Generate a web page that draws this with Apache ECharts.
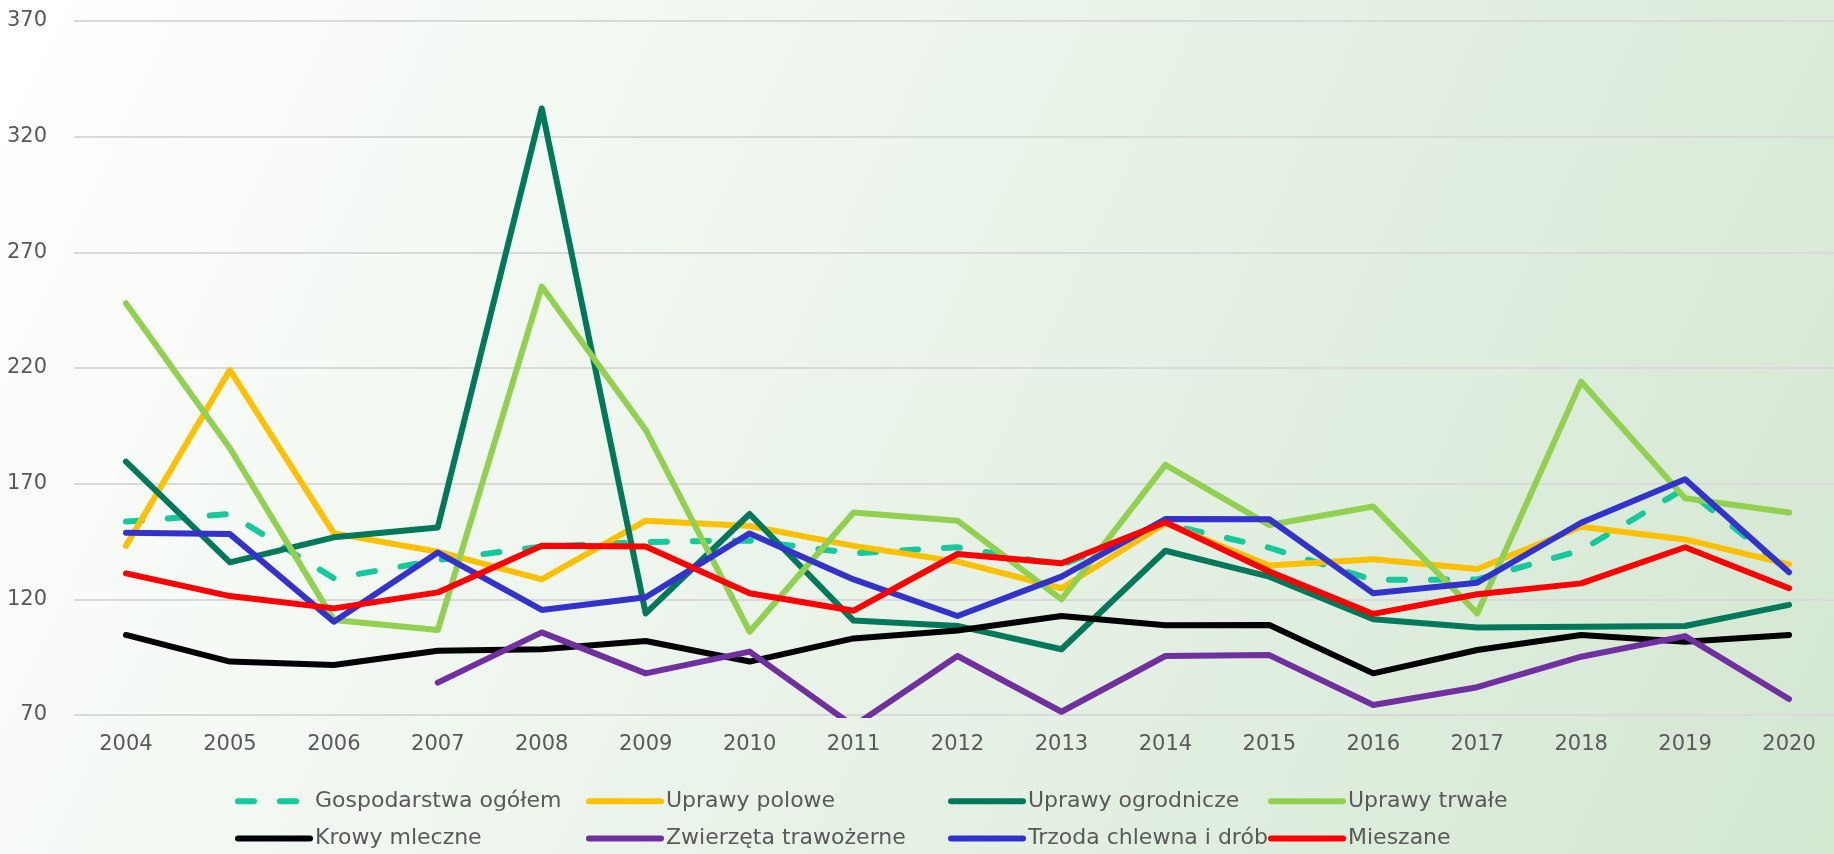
<!DOCTYPE html>
<html>
<head>
    <meta charset="utf-8">
    <title>Gospodarstwa - wskaźniki 2004-2020</title>
    <script src="https://cdn.jsdelivr.net/npm/echarts@6.0.0/dist/echarts.min.js"></script>
    <style>
        html, body {
            margin: 0;
            padding: 0;
        }
        #chart {
            width: 1834px;
            height: 854px;
        }
    </style>
</head>
<body>
<div id="chart"></div>

<script>
    const years = ['2004', '2005', '2006', '2007', '2008', '2009', '2010', '2011', '2012',
        '2013', '2014', '2015', '2016', '2017', '2018', '2019', '2020'];

    const ogolem = [153.6, 156.9, 129.1, 137.0, 142.8, 144.8, 145.4, 139.9, 142.5, 134.8, 152.6, 142.3, 128.4, 128.6, 141.2, 168.0, 132.0];
    const polowe = [143.1, 219.1, 148.5, 140.6, 128.6, 154.0, 151.7, 143.1, 136.3, 124.8, 152.9, 134.6, 137.3, 133.1, 151.4, 145.9, 135.1];
    const ogrodnicze = [179.5, 136.0, 146.8, 151.1, 332.2, 113.9, 156.9, 110.8, 108.5, 98.4, 141.0, 129.8, 111.4, 107.8, 108.2, 108.5, 117.6];
    const trwale = [248.0, 185.3, 111.1, 106.7, 255.2, 193.2, 106.0, 157.5, 154.0, 120.0, 178.1, 152.1, 160.1, 113.9, 214.1, 163.7, 157.5];
    const krowy = [104.6, 93.1, 91.6, 97.8, 98.4, 102.0, 93.1, 103.1, 106.5, 112.8, 108.8, 108.9, 88.0, 98.1, 104.6, 101.7, 104.6];
    const trawozerne = [null, null, null, 84.0, 105.7, 88.0, 97.4, 65.2, 95.5, 71.4, 95.5, 95.9, 74.3, 82.0, 95.2, 104.1, 76.9];
    const trzoda = [148.8, 148.2, 110.3, 140.2, 115.4, 120.9, 148.5, 128.6, 112.8, 129.8, 154.7, 154.6, 122.6, 127.2, 153.1, 171.9, 131.7];
    const mieszane = [131.2, 121.4, 116.1, 123.0, 143.2, 142.8, 122.6, 115.1, 139.6, 135.6, 153.3, 132.0, 113.7, 122.2, 126.9, 142.5, 124.8];

    const seriesDefs = [
        { name: 'Gospodarstwa ogółem', data: ogolem, color: '#14C99B', dashed: true },
        { name: 'Uprawy polowe', data: polowe, color: '#FFC000' },
        { name: 'Uprawy ogrodnicze', data: ogrodnicze, color: '#00785A' },
        { name: 'Uprawy trwałe', data: trwale, color: '#92D050' },
        { name: 'Krowy mleczne', data: krowy, color: '#000000' },
        { name: 'Zwierzęta trawożerne', data: trawozerne, color: '#7030A0' },
        { name: 'Trzoda chlewna i drób', data: trzoda, color: '#3333CC' },
        { name: 'Mieszane', data: mieszane, color: '#FF0000' }
    ];

    const font = 'DejaVu Sans';
    const textColor = '#595959';

    function lineStyleOf(s) {
        return {
            color: s.color,
            width: 6,
            type: s.dashed ? [16, 26] : 'solid',
            cap: 'round',
            join: 'round'
        };
    }

    // legend: 4 columns x 2 rows, columns aligned like in the original
    const legendLefts = [230, 581, 943, 1263];
    const legends = legendLefts.map((left, col) => ({
        orient: 'vertical',
        left: left,
        top: 785,
        height: 200,
        itemWidth: 72,
        itemHeight: 28,
        itemGap: 15,
        data: [seriesDefs[col], seriesDefs[col + 4]].map(s => ({
            name: s.name,
            lineStyle: lineStyleOf(s)
        })),
        itemStyle: { color: 'transparent', borderColor: 'transparent', borderWidth: 0 },
        textStyle: { color: textColor, fontSize: 22, fontFamily: font }
    }));

    const chart = echarts.init(document.getElementById('chart'));

    chart.setOption({
        backgroundColor: {
            type: 'linear', x: 0, y: 0, x2: 1, y2: 1,
            colorStops: [
                { offset: 0, color: '#FFFFFF' },
                { offset: 1, color: '#D3E7D1' }
            ]
        },
        animation: false,
        legend: legends,
        grid: {
            left: 74,
            top: 21,
            width: 1767,
            bottom: 139,
            containLabel: false,
            outerBoundsMode: 'none'
        },
        xAxis: {
            type: 'category',
            data: years,
            boundaryGap: true,
            axisLine: { show: false },
            axisTick: { show: false },
            axisLabel: { color: textColor, fontSize: 21, fontFamily: font, margin: 19 }
        },
        yAxis: {
            type: 'value',
            min: 70,
            max: 370,
            interval: 50,
            axisLine: { show: false },
            axisTick: { show: false },
            axisLabel: { color: textColor, fontSize: 21, fontFamily: font, margin: 27 },
            splitLine: { lineStyle: { color: '#D9D9D9', width: 2 } }
        },
        series: seriesDefs.map(s => ({
            name: s.name,
            type: 'line',
            data: s.data,
            symbol: 'none',
            clip: true,
            color: s.color,
            lineStyle: lineStyleOf(s)
        }))
    });
</script>
</body>
</html>
